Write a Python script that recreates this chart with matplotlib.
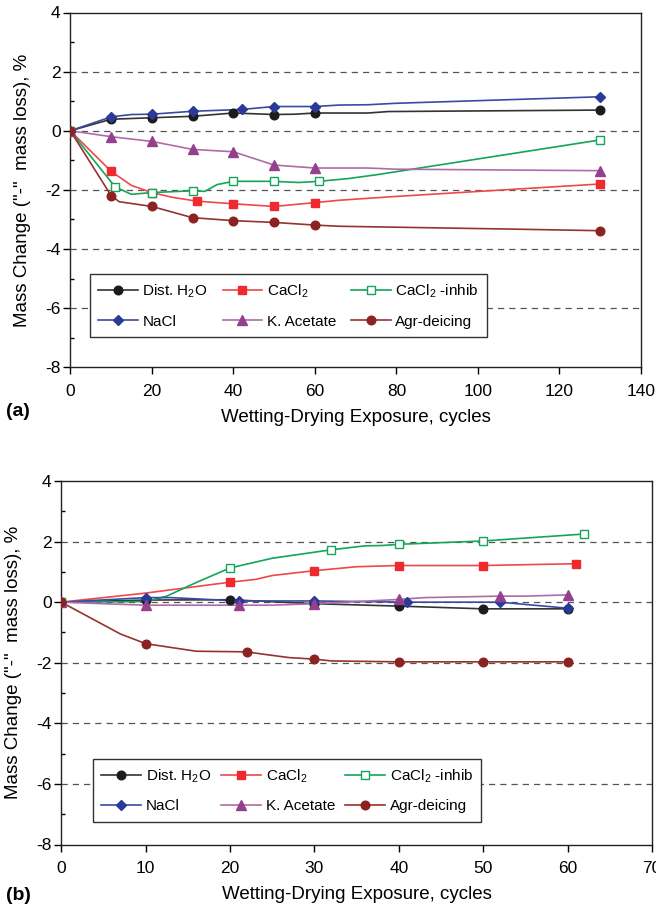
import matplotlib
matplotlib.use("Agg")
import matplotlib.pyplot as plt
from matplotlib.ticker import MultipleLocator

plt.rcParams['font.family'] = ['Liberation Sans', 'DejaVu Sans']
plt.rcParams['mathtext.fontset'] = 'custom'
plt.rcParams['mathtext.rm'] = 'Liberation Sans'
plt.rcParams['axes.unicode_minus'] = False

labels = ['Dist. H$_2$O', 'CaCl$_2$', 'CaCl$_2$ -inhib', 'NaCl', 'K. Acetate', 'Agr-deicing']
colors = ['#1c1c1c', '#ee2a2e', '#13a55a', '#2b3a98', '#93408f', '#8b2320']
line_colors = ['#333333', '#f0474b', '#13a55a', '#3a4aa3', '#b06aa8', '#95332e']
markers = ['o', 's', 's', 'D', '^', 'o']
filled = [True, True, False, True, True, True]

# ---- panel (a) markers ----
a_mx = [
    [0, 10, 20, 30, 40, 50, 60, 130],
    [0, 10, 20, 31, 40, 50, 60, 130],
    [0, 11, 20, 30, 40, 50, 61, 130],
    [0, 10, 20, 30, 42, 50, 60, 130],
    [0, 10, 20, 30, 40, 50, 60, 130],
    [0, 10, 20, 30, 40, 50, 60, 130],
]
a_my = [
    [0, 0.39, 0.44, 0.49, 0.60, 0.55, 0.60, 0.70],
    [0, -1.37, -2.09, -2.38, -2.47, -2.56, -2.43, -1.80],
    [0, -1.90, -2.09, -2.03, -1.71, -1.71, -1.71, -0.31],
    [0, 0.47, 0.56, 0.66, 0.72, 0.82, 0.82, 1.15],
    [0, -0.20, -0.36, -0.63, -0.71, -1.16, -1.26, -1.35],
    [0, -2.19, -2.56, -2.94, -3.04, -3.10, -3.19, -3.38],
]
# ---- panel (a) curves ----
a_cx = [
    [0, 10, 20, 30, 40, 50, 55, 60, 73, 78, 130],
    [0, 10, 15, 20, 25, 31, 40, 50, 60, 66, 80, 130],
    [0, 11, 15, 20, 30, 33, 36, 40, 50, 56, 61, 68, 75, 130],
    [0, 10, 15, 20, 30, 42, 50, 60, 66, 73, 80, 130],
    [0, 10, 20, 30, 40, 50, 60, 73, 80, 130],
    [0, 10, 12, 20, 30, 40, 50, 60, 66, 110, 130],
]
a_cy = [
    [0, 0.39, 0.44, 0.49, 0.60, 0.55, 0.56, 0.60, 0.60, 0.65, 0.70],
    [0, -1.37, -1.85, -2.09, -2.25, -2.38, -2.47, -2.56, -2.43, -2.35, -2.22, -1.80],
    [0, -1.90, -2.15, -2.09, -2.03, -2.05, -1.82, -1.71, -1.71, -1.75, -1.71, -1.62, -1.49, -0.31],
    [0, 0.47, 0.55, 0.56, 0.66, 0.72, 0.82, 0.82, 0.87, 0.88, 0.93, 1.15],
    [0, -0.20, -0.36, -0.63, -0.71, -1.16, -1.26, -1.26, -1.30, -1.35],
    [0, -2.19, -2.40, -2.56, -2.94, -3.04, -3.10, -3.19, -3.23, -3.33, -3.38],
]

# ---- panel (b) markers ----
b_mx = [
    [0, 10, 20, 30, 40, 50, 60],
    [0, 20, 30, 40, 50, 61],
    [0, 20, 32, 40, 50, 62],
    [0, 10, 21, 30, 41, 52, 60],
    [0, 10, 21, 30, 40, 52, 60],
    [0, 10, 22, 30, 40, 50, 60],
]
b_my = [
    [0, 0.07, 0.08, -0.05, -0.13, -0.22, -0.22],
    [0, 0.66, 1.04, 1.21, 1.21, 1.27],
    [0, 1.13, 1.73, 1.91, 2.02, 2.25],
    [0, 0.15, 0.04, 0.04, 0.00, 0.00, -0.20],
    [0, -0.10, -0.10, -0.05, 0.09, 0.20, 0.24],
    [0, -1.37, -1.64, -1.88, -1.97, -1.97, -1.97],
]
b_cx = [
    [0, 10, 20, 30, 40, 50, 60],
    [0, 10, 20, 23, 25, 30, 35, 40, 50, 61],
    [0, 10, 12.5, 16, 20, 25, 32, 36, 38, 40, 50, 62],
    [0, 10, 13, 21, 30, 41, 52, 60],
    [0, 10, 21, 25, 30, 40, 43, 52, 55, 60],
    [0, 7, 10, 16, 22, 24, 27, 30, 32, 40, 50, 60],
]
b_cy = [
    [0, 0.07, 0.08, -0.05, -0.13, -0.22, -0.22],
    [0, 0.30, 0.66, 0.75, 0.88, 1.04, 1.17, 1.21, 1.21, 1.27],
    [0, 0.02, 0.20, 0.65, 1.13, 1.45, 1.73, 1.86, 1.87, 1.91, 2.02, 2.25],
    [0, 0.15, 0.15, 0.04, 0.04, 0.00, 0.00, -0.20],
    [0, -0.10, -0.10, -0.10, -0.05, 0.09, 0.15, 0.20, 0.20, 0.24],
    [0, -1.05, -1.37, -1.62, -1.64, -1.72, -1.83, -1.88, -1.94, -1.97, -1.97, -1.97],
]

y_ticks = [4, 2, 0, -2, -4, -6, -8]
grid_levels = [2, 0, -2, -4, -6]
a_xticks = [0, 20, 40, 60, 80, 100, 120, 140]
b_xticks = [0, 10, 20, 30, 40, 50, 60, 70]

fig = plt.figure(figsize=(6.56, 9.09), dpi=100)
W, H = 656, 909

def make_axes(l, r, t, b):
    return fig.add_axes([l / W, 1 - b / H, (r - l) / W, (b - t) / H])

ax_a = make_axes(70.3, 641, 12.5, 367.3)
ax_b = make_axes(61.3, 652, 481, 844.5)

def draw(ax, mx, my, cx, cy, xticks, xmax, leg_box):
    for g in grid_levels:
        ax.axhline(g, color='#555555', lw=0.9, ls=(0, (5, 4)), zorder=1)
    handles = []
    for i in range(6):
        ax.plot(cx[i], cy[i], color=line_colors[i], lw=1.2, zorder=2)
        mfc = colors[i] if filled[i] else 'white'
        ms = 5.5 if markers[i] == 'D' else (7 if markers[i] == '^' else 6.2)
        if not filled[i]:
            ms = 6
        ax.plot(mx[i], my[i], ls='none', marker=markers[i], color=colors[i],
                mfc=mfc, mec=colors[i], ms=ms, mew=1.0, zorder=3)
        h, = ax.plot([], [], color=line_colors[i], lw=1.2, marker=markers[i],
                     mfc=mfc, mec=colors[i], ms=ms, mew=1.0)
        handles.append(h)
    ax.set_xlim(0, xmax)
    ax.set_ylim(-8, 4)
    ax.set_xticks(xticks)
    ax.set_yticks(y_ticks)
    ax.yaxis.set_minor_locator(MultipleLocator(1))
    ax.tick_params(axis='both', which='major', direction='out', length=5,
                   width=1, labelsize=12.5, colors='black')
    ax.tick_params(axis='x', which='major', pad=7)
    ax.tick_params(axis='y', which='major', pad=2)
    ax.tick_params(axis='y', which='minor', direction='in', length=3, width=1)
    for s in ax.spines.values():
        s.set_linewidth(1.0)
        s.set_color('#222222')
    ax.set_xlabel('Wetting-Drying Exposure, cycles', fontsize=13.5, labelpad=7)
    ax.set_ylabel('Mass Change ("-"  mass loss), %', fontsize=13.5, labelpad=10)
    order = [0, 3, 1, 4, 2, 5]
    x0, y0, x1, y1 = leg_box
    leg = ax.legend([handles[k] for k in order], [labels[k] for k in order],
                    ncol=3, loc='lower left', bbox_to_anchor=(x0, y0, x1 - x0, y1 - y0),
                    mode='expand', fontsize=11, frameon=True, fancybox=False,
                    edgecolor='#333333', framealpha=1, borderpad=0.55,
                    handlelength=2.6, handletextpad=0.3, columnspacing=0.8,
                    labelspacing=0.95, borderaxespad=0)
    leg.get_frame().set_linewidth(1.0)
    leg.set_zorder(5)

draw(ax_a, a_mx, a_my, a_cx, a_cy, a_xticks, 140, (0.034, 0.085, 0.730, 0.266))
draw(ax_b, b_mx, b_my, b_cx, b_cy, b_xticks, 70, (0.0535, 0.063, 0.711, 0.245))

fig.text(6 / W, 1 - 411 / H, '(a)', fontsize=14, fontweight='bold', ha='left', va='center')
fig.text(6 / W, 1 - 895 / H, '(b)', fontsize=14, fontweight='bold', ha='left', va='center')

fig.savefig('out.png', dpi=100)
